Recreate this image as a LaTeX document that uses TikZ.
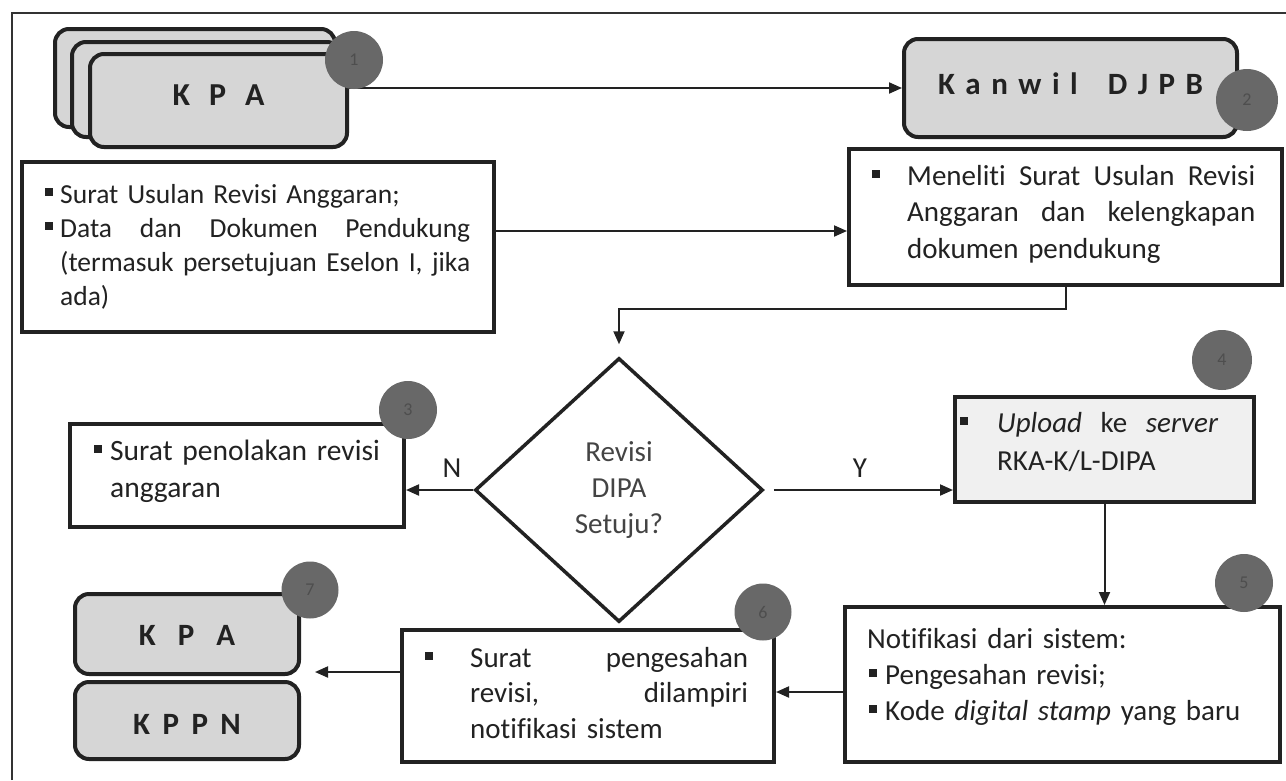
\documentclass[tikz,border=0pt]{standalone}
\usepackage{fontspec}
\setmainfont{Carlito}[Ligatures=NoCommon]
\usetikzlibrary{arrows.meta,shapes.geometric,calc}
\definecolor{ink}{HTML}{222222}
\definecolor{boxgray}{HTML}{D6D6D6}
\definecolor{dotgray}{HTML}{686868}
\definecolor{numc}{HTML}{4E4E4E}
\definecolor{uploadc}{HTML}{F0F0F0}
\definecolor{diatext}{HTML}{444444}
\definecolor{framec}{HTML}{333333}
\newcommand\bul{\rule[7pt]{8pt}{8pt}}
\newcommand\bl[1]{\leavevmode\llap{\bul\hspace{#1}}}
\newcommand\jl[2]{\leavevmode\hbox to #1{\spaceskip=.2em plus 1fil\relax#2}}
\newcommand\fs[2]{\fontsize{#1}{#2}\selectfont}
\begin{document}
\begin{tikzpicture}[x=1pt,y=-1pt,
  bbox/.style={draw=ink, line width=4pt, fill=white, inner sep=0pt, anchor=north west},
  rbox/.style={bbox, fill=boxgray, rounded corners=14pt, text=ink, font=\fs{31}{34}\bfseries},
  dot/.style={circle, fill=dotgray, inner sep=0pt, minimum size=58pt, text=numc, font=\fs{18}{20}},
  txt/.style={anchor=base west, inner sep=0pt, text=ink},
  arr/.style={draw=ink, line width=2pt, -{Triangle[length=13pt,width=11pt]}},
  lbl/.style={text=ink, font=\fs{29}{34}, inner sep=0pt, anchor=base}]
\useasboundingbox[fill=white] (0,0) rectangle (1286,780);
% frame
\draw[framec, line width=1.5pt] (12,780) -- (12,13) -- (1286,13);

% boxes
\node[rbox, minimum width=280pt, minimum height=98pt] (kpa3) at (53,27) {};
\node[rbox, minimum width=269pt, minimum height=95pt] (kpa2) at (70,40) {};
\node[rbox, minimum width=257pt, minimum height=93pt, font=\fs{32}{34}\bfseries, text height=21pt, text depth=12pt] (kpa1) at (88,52) {K\hspace{19pt}P\hspace{19pt}A};
\node[rbox, minimum width=333pt, minimum height=98pt, text height=20pt, text depth=8pt] (kanwil) at (902,37)
  {K\hspace{10.5pt}a\hspace{10.5pt}n\hspace{10.5pt}w\hspace{10.5pt}i\hspace{10.5pt}l\hspace{30pt}D\hspace{10.5pt}J\hspace{10.5pt}P\hspace{10.5pt}B};

\node[bbox, minimum width=472pt, minimum height=170pt] (b1) at (20,160) {};
\node[bbox, minimum width=433pt, minimum height=136pt] (men) at (847,147) {};
\node[bbox, minimum width=334pt, minimum height=103pt] (b3) at (68,422) {};
\node[bbox, fill=uploadc, minimum width=299pt, minimum height=105pt] (up) at (953,395) {};
\node[bbox, minimum width=435pt, minimum height=155pt] (b5) at (843,605) {};
\node[bbox, minimum width=372pt, minimum height=132pt] (b6) at (400,628) {};
\node[rbox, minimum width=224pt, minimum height=80pt, text height=22pt, text depth=0pt] (kpab) at (73,592) {K\hspace{22pt}P\hspace{22pt}A};
\node[rbox, minimum width=224pt, minimum height=77pt, text height=27pt, text depth=0pt] (kppn) at (73,680) {K\hspace{12.5pt}P\hspace{12.5pt}P\hspace{12.5pt}N};

\node[draw=ink, line width=3.5pt, shape=diamond, minimum width=288pt, minimum height=264pt, inner sep=0pt,
  text width=110pt, align=center, font=\fs{29}{36}, text=diatext] (dia) at (619,490) {Revisi\\DIPA\\Setuju?};

% texts
\node[txt, text width=410pt, font=\fs{27.5}{34}] (t1) at (60,203)
  {\bl{7pt}Surat Usulan Revisi Anggaran;\\%
   \bl{7pt}\jl{410pt}{Data dan Dokumen Pendukung}\\%
   \jl{410pt}{(termasuk persetujuan Eselon I, jika}\\%
   ada)};
\node[txt, text width=348pt, font=\fs{29}{36.5}] (tmen) at (907,185)
  {\bl{27pt}\jl{348pt}{Meneliti Surat Usulan Revisi}\\%
   \jl{348pt}{Anggaran dan kelengkapan}\\%
   dokumen pendukung};
\node[txt, text width=280pt, font=\fs{29.5}{37}] (t3) at (110,460)
  {\bl{8pt}Surat penolakan revisi\\%
   anggaran};
\node[txt, text width=221pt, font=\fs{29}{38}] (tup) at (997,432)
  {\bl{29pt}\jl{221pt}{\textit{Upload} ke \textit{server}}\\%
   RKA-K/L-DIPA};
\node[txt, text width=390pt, font=\fs{29}{36}] (t5) at (867,648)
  {Notifikasi dari sistem:\\%
   \hspace*{2pt}\bul\hspace*{8pt}Pengesahan revisi;\\%
   \hspace*{2pt}\bul\hspace*{8pt}Kode \textit{digital stamp} yang baru};
\node[txt, text width=278pt, font=\fs{29}{35.5}] (t6) at (470,667)
  {\bl{37pt}\jl{278pt}{Surat pengesahan}\\%
   \jl{278pt}{revisi, dilampiri}\\%
   notifikasi sistem};

% connectors
\coordinate (ya) at (0,231);
\coordinate (yb) at (0,692);
\coordinate (kend) at (315,672);
\draw[arr] (kpa1.east |- kanwil.west) -- (kanwil.west);
\draw[arr] (b1.east |- ya) -- (men.west |- ya);
\draw[arr, shorten >=12pt] (men.south) -- ++(0,22) -| (dia.north);
\draw[arr] (dia.west) -- (b3.east |- dia.west);
\draw[arr, shorten <=9pt] (dia.east) -- (up.west |- dia.east);
\draw[arr] (up.south) -- (up.south |- b5.north);
\draw[arr] (b5.west |- yb) -- (b6.east |- yb);
\draw[arr] (b6.west |- kend) -- (kend);

\node[lbl] (nlab) at (452,477) {N};
\node[lbl] (ylab) at (860,477) {Y};

% step numbers
\node[dot] (c1) at (354,60) {1};
\node[dot, minimum size=62pt] (c2) at (1247,100) {2};
\node[dot] (c3) at (408,410) {3};
\node[dot, minimum size=60pt] (c4) at (1222,360) {4};
\node[dot] (c5) at (1244,583) {5};
\node[dot, minimum size=57pt] (c6) at (763,612) {6};
\node[dot, minimum size=57pt] (c7) at (310,590) {7};
\end{tikzpicture}
\end{document}
